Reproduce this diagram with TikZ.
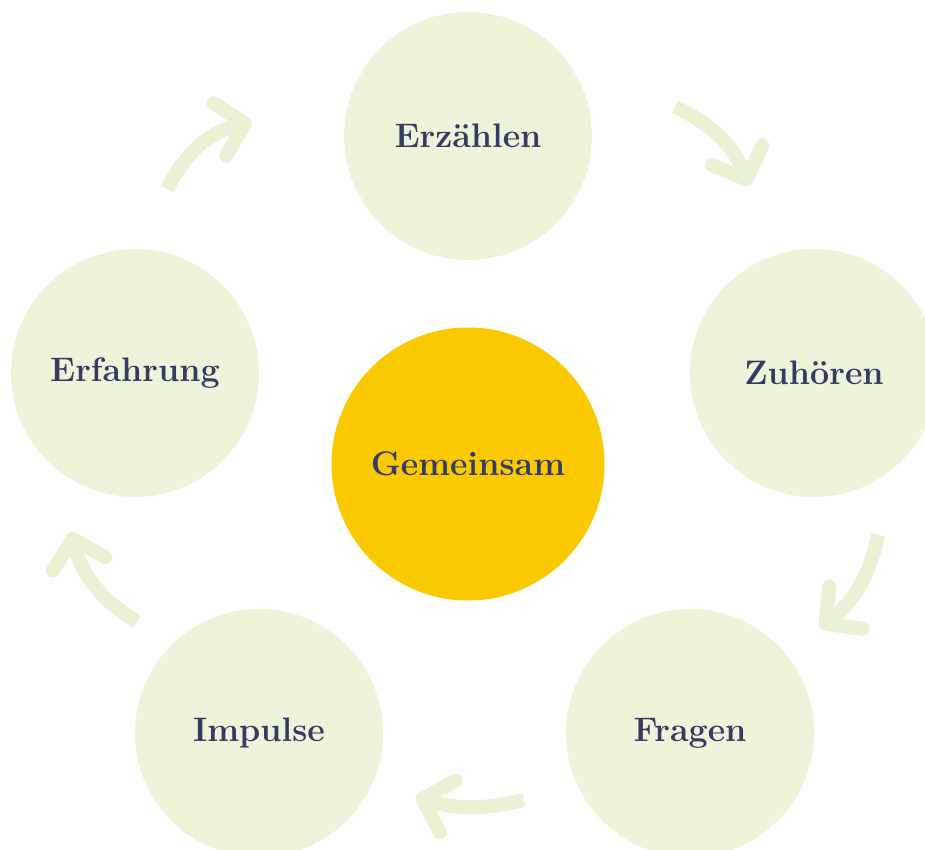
\documentclass[tikz,border=0pt]{standalone}
\usetikzlibrary{arrows.meta}
\definecolor{leaf}{HTML}{ECF4D9}
\definecolor{arrowc}{HTML}{E8F2D4}
\definecolor{gold}{HTML}{FAC900}
\definecolor{ink}{HTML}{353C63}
\begin{document}
\begin{tikzpicture}[x=1pt,y=-1pt,
  leafnode/.style={circle,fill=leaf,minimum size=248pt,inner sep=0pt,text=ink,font=\fontsize{34}{38}\selectfont\bfseries},
  centernode/.style={circle,fill=gold,minimum size=273pt,inner sep=0pt,text=ink,font=\fontsize{34}{38}\selectfont\bfseries},
  flow/.style={draw=arrowc,line width=14pt,line join=round,
    -{Straight Barb[length=26pt,width=54pt,line join=round,line cap=round]}}
]
\useasboundingbox (0,0) rectangle (925,850);
\node[leafnode] (erz) at (468,136) {Erzählen};
\node[leafnode] (zuh) at (814,373) {Zuhören};
\node[leafnode] (fra) at (690,733) {Fragen};
\node[leafnode] (imp) at (259,733) {Impulse};
\node[leafnode] (erf) at (135,373) {Erfahrung};
\node[centernode] (gem) at (468,464) {Gemeinsam};
\coordinate (a1s) at (167,189);
\coordinate (a1e) at (252,122);
\coordinate (a2s) at (675,107);
\coordinate (a2e) at (749,186);
\coordinate (a3s) at (878,535);
\coordinate (a3e) at (820,628);
\coordinate (a4s) at (524,800);
\coordinate (a4e) at (416,797);
\coordinate (a5s) at (137,622);
\coordinate (a5e) at (71,532);
\draw[flow] (a1s) to[bend left=25] (a1e);
\draw[flow] (a2s) to[bend left=22] (a2e);
\draw[flow] (a3s) to[bend left=20] (a3e);
\draw[flow] (a4s) to[bend left=15] (a4e);
\draw[flow] (a5s) to[bend left=22] (a5e);
\end{tikzpicture}
\end{document}
